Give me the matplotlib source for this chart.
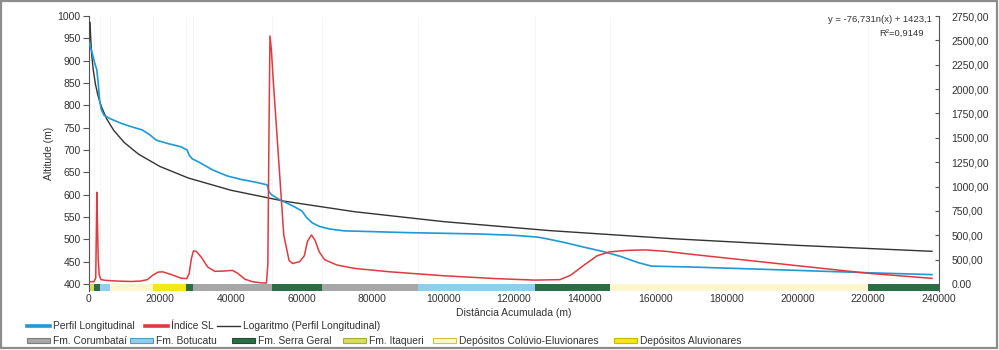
import numpy as np
import matplotlib
matplotlib.use('Agg')
from matplotlib import pyplot as plt
from matplotlib.lines import Line2D
from matplotlib.patches import Patch, Rectangle

plt.rcParams['font.family'] = ['Liberation Sans', 'DejaVu Sans']

# longitudinal profile: accumulated distance (m) and altitude (m)
perfil_dist = [0, 800, 1600, 2200, 2600, 3000, 3500, 4200, 6000, 9000, 12000, 15000,
               17000, 19000, 22000, 26000, 27700, 28300, 29200, 31000, 35000, 39000,
               43000, 47000, 50300, 50800, 51500, 54000, 57500, 60200, 61300, 63000,
               65000, 68000, 72000, 90000, 110000, 120000, 126700, 130000, 134200,
               140000, 145000, 150000, 155000, 158800, 170000, 190000, 220700, 238000]
perfil_alt = [940, 920, 895, 880, 850, 810, 790, 778, 770, 760, 752, 745,
              735, 722, 715, 707, 700, 688, 680, 673, 655, 642,
              634, 628, 622, 607, 600, 588, 575, 563, 550, 537,
              529, 523, 519, 515, 512, 509, 505, 500, 493,
              482, 473, 462, 448, 440, 438, 433, 425, 421]

# SL index along the same river
sl_dist = [0, 1400, 1900, 2100, 2200, 2350, 2600, 2900, 3400, 4500, 8000, 12000,
           14500, 16500, 18000, 19500, 20800, 23000, 26000, 27600, 28300, 28900,
           29500, 30300, 31800, 33500, 35500, 38000, 40500, 42000, 44000, 46000,
           48500, 50100, 50500, 50800, 51100, 51500, 52000, 53500, 55000, 56500,
           57500, 59500, 60800, 61700, 62800, 63800, 65000, 66500, 70000, 75000,
           85000, 100000, 115000, 126000, 133000, 136000, 140000, 143500, 147000,
           152000, 157000, 163000, 170000, 220000, 238000]
sl_val = [24, 24, 60, 600, 941, 700, 250, 90, 45, 38, 30, 26,
          30, 45, 90, 122, 125, 100, 60, 55, 110, 260,
          340, 335, 270, 175, 130, 133, 140, 110, 50, 25,
          12, 10, 200, 1500, 2545, 2400, 2100, 1300, 500, 240,
          210, 230, 290, 440, 503, 450, 330, 250, 195, 160,
          125, 85, 55, 40, 45, 90, 200, 290, 330,
          345, 350, 335, 305, 110, 58]

# logarithmic trend of the profile: y = a*ln(x) + b
trend_a = -76.731
trend_b = 1423.1
trend_r2 = 0.9149
trend_dist = [300, 500, 800, 1200, 1800, 2500, 3500, 5000, 7000, 10000, 14000, 20000,
              28000, 40000, 55000, 75000, 100000, 130000, 165000, 200000, 238000]

# geological units crossed by the river
geo_start = [0, 1400, 3100, 6000, 18000, 27400, 29400, 51800, 65900, 93000,
             126000, 147000, 220000]
geo_end = geo_start[1:] + [240000]
geo_unit = ['itaqueri', 'serra', 'botucatu', 'coluvio', 'aluvio', 'serra', 'corumbatai',
            'serra', 'corumbatai', 'botucatu', 'serra', 'coluvio', 'serra']

units = {
    'corumbatai': ('Fm. Corumbataí', '#a7a7a7', '#7d7d7d'),
    'botucatu': ('Fm. Botucatu', '#8ccff0', '#4a9fcf'),
    'serra': ('Fm. Serra Geral', '#2b6e45', '#1d4f31'),
    'itaqueri': ('Fm. Itaqueri', '#d8dd62', '#a8ad35'),
    'coluvio': ('Depósitos Colúvio-Eluvionares', '#fff6d0', '#d9c23a'),
    'aluvio': ('Depósitos Aluvionares', '#f7e61c', '#c9b800'),
}

sl_ticks = [0, 250, 500, 750, 1000, 1250, 1500, 1750, 2000, 2250, 2500, 2750]
sl_ticklabels = ['0.00', '500,00', '500,00', '750,00', '1000,00', '1250,00', '1500,00',
                 '1750,00', '2000,00', '2250,00', '2500,00', '2750,00']

BLUE = '#1b9ad6'
RED = '#e0393e'
BLACK = '#333333'
TXT = '#333333'
FS = 7.5
LEG_FS = 7.4

fig = plt.figure(figsize=(9.99, 3.5), dpi=100)
ax = fig.add_axes([89 / 999, 1 - 291 / 350, 850 / 999, 275 / 350])
ax.set_xlim(0, 240000)
ax.set_ylim(384.3, 1000)

# faint lines at contacts between units
ax.vlines(geo_start[1:], 400, 1000, color='#f2f2f2', lw=0.5, zorder=0)

# geology strip along the bottom
for s, e, u in zip(geo_start, geo_end, geo_unit):
    ax.broken_barh([(s, e - s)], (384.3, 15.9), facecolors=units[u][1], zorder=1)

trend_x = np.array(trend_dist, dtype=float)
trend_y = trend_a * np.log(trend_x) + trend_b
ax.plot(trend_x, trend_y, color=BLACK, lw=1.0, zorder=3)
ax.plot(perfil_dist, perfil_alt, color=BLUE, lw=1.2, zorder=4)

ax2 = ax.twinx()
ax2.set_ylim(-71.8, 2750)
ax2.plot(sl_dist, sl_val, color=RED, lw=1.1, zorder=5)

for sp in ['top', 'bottom', 'right']:
    ax.spines[sp].set_visible(False)
for sp in ['top', 'bottom', 'left']:
    ax2.spines[sp].set_visible(False)
ax.spines['left'].set_color('#555555')
ax2.spines['right'].set_color('#555555')

ax.set_yticks(np.arange(400, 1001, 50))
ax.tick_params(axis='y', direction='out', length=4, width=0.8, color='#555555',
               labelsize=FS, labelcolor=TXT, pad=2)
ax.set_xticks(np.arange(0, 240001, 20000))
ax.set_xticklabels([str(v) for v in range(0, 240001, 20000)])
ax.tick_params(axis='x', length=0, labelsize=FS, labelcolor=TXT, pad=2)

ax2.set_yticks(sl_ticks)
ax2.set_yticklabels(sl_ticklabels)
ax2.tick_params(axis='y', direction='in', length=3, width=0.8, color='#555555',
                labelsize=FS, labelcolor=TXT, pad=9)

ax.set_ylabel('Altitude (m)', fontsize=FS, color=TXT)
ax.yaxis.set_label_coords(-35 / 850, 0.5)
ax.set_xlabel('Distância Acumulada (m)', fontsize=FS, color=TXT)
ax.xaxis.set_label_coords(0.5, -17 / 275)

# trend equation
eq = f"y = {trend_a:.3f}".replace('.', ',') + "n(x) + " + f"{trend_b:.1f}".replace('.', ',')
fig.text(880 / 999, 1 - 20 / 350, eq, ha='center', va='center', fontsize=6.8, color=TXT)
fig.text(902 / 999, 1 - 33 / 350, 'R²=' + f"{trend_r2:.4f}".replace('.', ','),
         ha='center', va='center', fontsize=6.8, color=TXT)


def legend_entry(handle, label, x_px, y_px):
    leg = fig.legend([handle], [label], loc='center left',
                     bbox_to_anchor=(x_px / 999, 1 - y_px / 350), frameon=False,
                     fontsize=LEG_FS, handlelength=2.2, handleheight=0.45,
                     handletextpad=0.3, borderpad=0, borderaxespad=0)
    for t in leg.get_texts():
        t.set_color(TXT)


# line legend, first row
line_entries = [(Line2D([], [], color=BLUE, lw=2.6), 'Perfil Longitudinal', 27),
                (Line2D([], [], color=RED, lw=2.6), 'Índice SL', 145),
                (Line2D([], [], color=BLACK, lw=1.0), 'Logaritmo (Perfil Longitudinal)', 217)]
for h, lab, xp in line_entries:
    legend_entry(h, lab, xp, 326)

# geology legend, second row
order = ['corumbatai', 'botucatu', 'serra', 'itaqueri', 'coluvio', 'aluvio']
patch_x = [27, 130, 232, 343, 433, 614]
for k, xp in zip(order, patch_x):
    h = Patch(facecolor=units[k][1], edgecolor=units[k][2], lw=0.8)
    legend_entry(h, units[k][0], xp, 341)

# outer frame
fig.patches.append(Rectangle((1 / 999, 2 / 350), 996 / 999, 347 / 350, fill=False,
                             lw=1.6, edgecolor='#8c8c8c', transform=fig.transFigure))

fig.savefig('out.png', dpi=100)
